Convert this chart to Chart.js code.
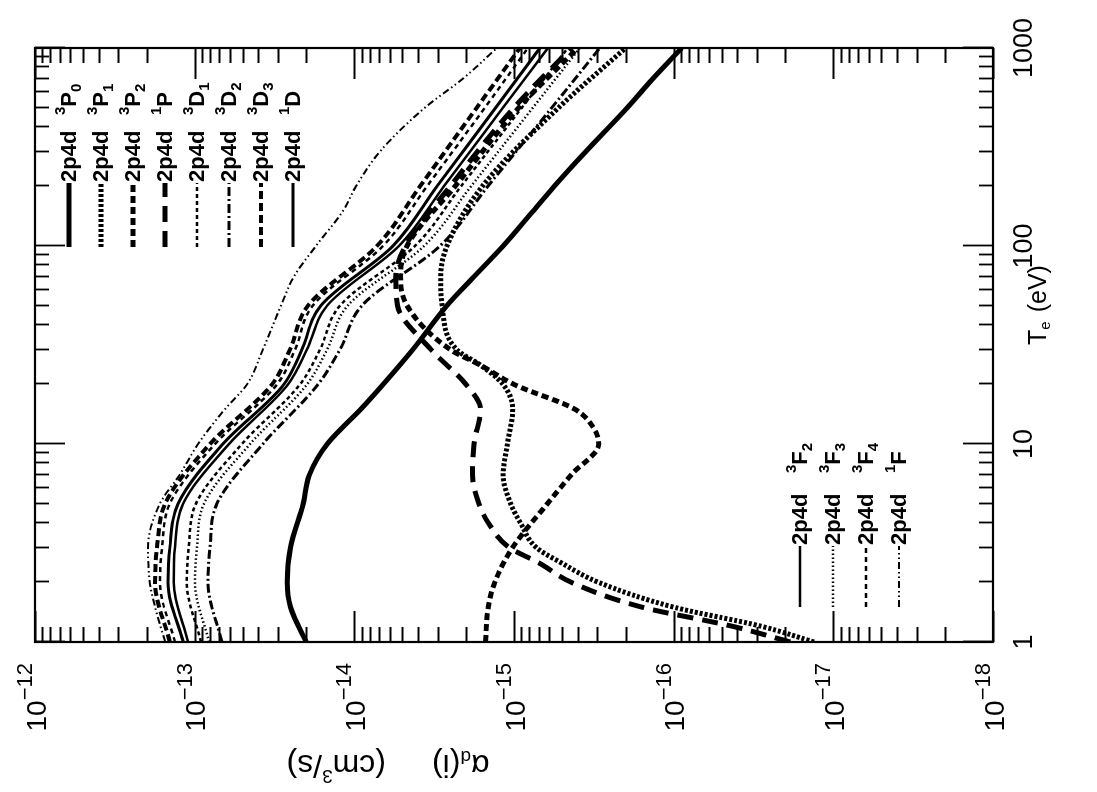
<!DOCTYPE html>
<html>
<head>
<meta charset="utf-8">
<script src="https://cdn.jsdelivr.net/npm/chart.js@4.4.1/dist/chart.umd.min.js"></script>
<style>
  html, body { margin: 0; padding: 0; background: #fff; overflow: hidden; width: 1097px; height: 792px; }
  /* the figure is laid out in portrait and turned a quarter turn to sit in landscape */
  #page { position: absolute; left: 0; top: 0; width: 792px; height: 1097px;
          transform-origin: 0 0; transform: translate(0px, 792px) rotate(-90deg); background: #fff; }
  canvas { display: block; }
</style>
</head>
<body>
<div id="page"><canvas id="chart" width="792" height="1097"></canvas></div>
<script>
// ---- dielectronic recombination rate coefficients, alpha_d(i) in cm^3/s, vs T_e in eV ----

// 2p4d 3P0
const T_P0 = [1, 1.5, 2, 3, 5, 7, 10, 15, 20, 30, 50, 70, 100, 150, 200, 300, 500, 700, 1000];
const A_P0 = [2.0e-14, 2.51e-14, 2.63e-14, 2.51e-14, 2.09e-14, 1.91e-14, 1.48e-14, 9.1e-15, 6.6e-15, 4.3e-15, 2.63e-15, 1.78e-15, 1.17e-15, 7.6e-16, 5.6e-16, 3.55e-16, 1.95e-16, 1.35e-16, 8.9e-17];

// 2p4d 3P1
const T_P1 = [1, 1.2, 1.5, 2, 2.5, 3, 4, 5, 7, 10, 15, 20, 25, 30, 50, 70, 100, 200, 500, 1000];
const A_P1 = [1.32e-17, 2.82e-17, 1.0e-16, 2.95e-16, 5.01e-16, 7.24e-16, 9.12e-16, 1.05e-15, 1.17e-15, 1.10e-15, 1.02e-15, 1.17e-15, 1.62e-15, 2.29e-15, 2.82e-15, 2.88e-15, 2.63e-15, 1.58e-15, 5.25e-16, 2.0e-16];

// 2p4d 3P2
const T_P2 = [1, 1.5, 2, 3, 5, 7, 10, 12, 15, 20, 25, 30, 50, 70, 100, 200, 500, 1000];
const A_P2 = [1.51e-15, 1.45e-15, 1.32e-15, 1.02e-15, 6.17e-16, 4.37e-16, 2.95e-16, 3.16e-16, 4.17e-16, 1.0e-15, 1.62e-15, 2.51e-15, 4.68e-15, 5.13e-15, 4.68e-15, 2.34e-15, 9.33e-16, 3.98e-16];

// 2p4d 1P
const T_1P = [1, 1.2, 1.5, 2, 2.5, 3, 4, 5, 7, 10, 15, 20, 30, 50, 70, 100, 200, 500, 1000];
const A_1P = [1.86e-17, 4.27e-17, 1.58e-16, 4.37e-16, 6.92e-16, 1.07e-15, 1.45e-15, 1.66e-15, 1.82e-15, 1.78e-15, 1.62e-15, 2.0e-15, 3.31e-15, 5.37e-15, 5.50e-15, 4.79e-15, 2.51e-15, 1.0e-15, 4.37e-16];

// the D and F terms share one temperature grid
const T_DF = [1, 2, 3, 5, 10, 20, 30, 50, 100, 200, 500, 1000];
const A_D1 = [9.13e-14, 1.12e-13, 1.09e-13, 9.81e-14, 5.06e-14, 2.19e-14, 1.64e-14, 1.23e-14, 4.17e-15, 2.15e-15, 8.92e-16, 4.60e-16];
const A_D2 = [6.75e-14, 8.25e-14, 8.02e-14, 7.25e-14, 3.74e-14, 1.69e-14, 1.23e-14, 8.96e-15, 2.91e-15, 1.46e-15, 5.79e-16, 2.90e-16];
const A_D3 = [1.43e-13, 1.77e-13, 1.72e-13, 1.53e-13, 8.02e-14, 3.28e-14, 2.53e-14, 1.95e-14, 7.22e-15, 3.88e-15, 1.71e-15, 9.18e-16];
const A_1D = [1.18e-13, 1.47e-13, 1.43e-13, 1.27e-13, 6.65e-14, 2.76e-14, 2.13e-14, 1.62e-14, 5.73e-15, 3.04e-15, 1.30e-15, 6.88e-16];
const A_F2 = [1.10e-13, 1.35e-13, 1.33e-13, 1.18e-13, 6.10e-14, 2.60e-14, 1.98e-14, 1.48e-14, 5.26e-15, 2.75e-15, 1.17e-15, 6.13e-16];
const A_F3 = [8.13e-14, 9.96e-14, 9.67e-14, 8.74e-14, 4.50e-14, 1.98e-14, 1.48e-14, 1.10e-14, 3.66e-15, 1.86e-15, 7.61e-16, 3.87e-16];
const A_F4 = [1.33e-13, 1.65e-13, 1.60e-13, 1.43e-13, 7.46e-14, 3.05e-14, 2.35e-14, 1.82e-14, 6.62e-15, 3.51e-15, 1.52e-15, 8.18e-16];

// 2p4d 1F
const T_1F = [1, 1.5, 2, 3, 5, 7, 10, 15, 20, 30, 50, 70, 100, 150, 200, 300, 500, 700, 1000];
const A_1F = [1.53e-13, 1.77e-13, 1.91e-13, 1.96e-13, 1.65e-13, 1.24e-13, 9.53e-14, 6.46e-14, 4.70e-14, 3.74e-14, 2.88e-14, 2.39e-14, 1.74e-14, 1.18e-14, 9.77e-15, 6.91e-15, 3.61e-15, 2.09e-15, 1.28e-15];

// term symbols: superscript multiplicity, letter, subscript J
const termSup    = ['3', '3', '3', '1', '3', '3', '3', '1', '3', '3', '3', '1'];
const termLetter = ['P', 'P', 'P', 'P', 'D', 'D', 'D', 'D', 'F', 'F', 'F', 'F'];
const termSub    = ['0', '1', '2', '',  '1', '2', '3', '',  '2', '3', '4', ''];
const seriesT = [T_P0, T_P1, T_P2, T_1P, T_DF, T_DF, T_DF, T_DF, T_DF, T_DF, T_DF, T_1F];
const seriesA = [A_P0, A_P1, A_P2, A_1P, A_D1, A_D2, A_D3, A_1D, A_F2, A_F3, A_F4, A_1F];

// axis ticks
const xDecades = [1, 10, 100, 1000];
const xTickLabels = ['1', '10', '100', '1000'];
const yDecades = [1e-18, 1e-17, 1e-16, 1e-15, 1e-14, 1e-13, 1e-12];
const yTickBase = '10';
const yTickExponents = ['−18', '−17', '−16', '−15', '−14', '−13', '−12'];
const minorSteps = [2, 3, 4, 5, 6, 7, 8, 9];

// ---- drawing styles ----
const FONT = '"Liberation Sans", Arial, Helvetica, sans-serif';
const lineStyles = [
  { w: 5,   dash: [] },                       // 3P0
  { w: 5,   dash: [3, 2] },                   // 3P1
  { w: 5,   dash: [7, 4] },                   // 3P2
  { w: 5,   dash: [16, 9] },                  // 1P
  { w: 2.5, dash: [4, 3] },                   // 3D1
  { w: 3,   dash: [9, 3, 2, 3] },             // 3D2
  { w: 4,   dash: [8, 4] },                   // 3D3
  { w: 3,   dash: [] },                       // 1D
  { w: 2.5, dash: [] },                       // 3F2
  { w: 2.5, dash: [1.5, 2.5] },               // 3F3
  { w: 2.5, dash: [5, 4] },                   // 3F4
  { w: 2,   dash: [7, 3, 1.5, 3, 1.5, 3] }    // 1F
];
const subDigits = { '0': '₀', '1': '₁', '2': '₂', '3': '₃', '4': '₄' };
const supDigits = { '1': '¹', '3': '³' };

function tickList(decades) {
  const list = [];
  decades.forEach((d, i) => {
    list.push({ value: d, major: true });
    if (i < decades.length - 1) minorSteps.forEach(m => list.push({ value: m * d, major: false }));
  });
  return list;
}

const datasets = seriesA.map((a, i) => ({
  label: '2p4d ' + supDigits[termSup[i]] + termLetter[i] + (termSub[i] ? subDigits[termSub[i]] : ''),
  data: seriesT[i].map((t, k) => ({ x: t, y: a[k] })),
  borderColor: '#000',
  borderWidth: lineStyles[i].w,
  borderDash: lineStyles[i].dash,
  borderCapStyle: 'butt',
  borderJoinStyle: 'round',
  pointRadius: 0,
  fill: false,
  cubicInterpolationMode: 'monotone'
}));

// draws a run of text pieces (normal / raised / lowered) starting at x
function drawPieces(ctx, pieces, x, y, weight) {
  pieces.forEach(p => {
    ctx.font = weight + ' ' + p.size + 'px ' + FONT;
    ctx.fillText(p.text, x, y + (p.dy || 0));
    x += ctx.measureText(p.text).width + (p.gap || 0);
  });
  return x;
}
function piecesWidth(ctx, pieces, weight) {
  let w = 0;
  pieces.forEach(p => { ctx.font = weight + ' ' + p.size + 'px ' + FONT; w += ctx.measureText(p.text).width + (p.gap || 0); });
  return w;
}

// inward tick marks on all four sides, the plot frame and the decade labels
const framePlugin = {
  id: 'frameTicks',
  afterDatasetsDraw(chart) {
    const { ctx, chartArea: ca } = chart;
    const xs = chart.scales.x, ys = chart.scales.y;
    ctx.save();
    ctx.strokeStyle = '#000';
    ctx.fillStyle = '#000';
    ctx.lineWidth = 1.8;
    ctx.setLineDash([]);
    xs.ticks.forEach(t => {
      const p = Math.round(xs.getPixelForValue(t.value)) + 0.5;
      const len = t.major ? 30 : 14;
      ctx.beginPath();
      ctx.moveTo(p, ca.bottom); ctx.lineTo(p, ca.bottom - len);
      ctx.moveTo(p, ca.top); ctx.lineTo(p, ca.top + len);
      ctx.stroke();
    });
    ys.ticks.forEach(t => {
      const p = Math.round(ys.getPixelForValue(t.value)) + 0.5;
      const len = t.major ? 31 : 15;
      ctx.beginPath();
      ctx.moveTo(ca.left, p); ctx.lineTo(ca.left + len, p);
      ctx.moveTo(ca.right, p); ctx.lineTo(ca.right - len, p);
      ctx.stroke();
    });
    ctx.lineWidth = 2.2;
    ctx.strokeRect(ca.left, ca.top, ca.right - ca.left, ca.bottom - ca.top);

    // decade labels
    ctx.textBaseline = 'middle';
    xDecades.forEach((d, i) => {
      const p = xs.getPixelForValue(d);
      ctx.font = 'normal 27px ' + FONT;
      const w = ctx.measureText(xTickLabels[i]).width;
      ctx.fillText(xTickLabels[i], p - w / 2, ca.bottom + 32);
    });
    yDecades.forEach((d, i) => {
      const p = ys.getPixelForValue(d);
      const pieces = [{ text: yTickBase, size: 28 }, { text: yTickExponents[i], size: 22, dy: -12 }];
      const w = piecesWidth(ctx, pieces, 'normal');
      drawPieces(ctx, pieces, ca.left - 21 - w, p + 3, 'normal');
    });
    ctx.restore();
  }
};

// in-plot keys for the two groups of terms
const legendGroups = [
  { items: [0, 1, 2, 3, 4, 5, 6, 7], dx: 395, dy: 34, step: 32, len: 64, termDx: 132 },
  { items: [8, 9, 10, 11],           dx: 35,  dy: 765, step: 33, len: 61, termDx: 134 }
];
const keyPlugin = {
  id: 'termKeys',
  afterDatasetsDraw(chart) {
    const { ctx, chartArea: ca } = chart;
    ctx.save();
    ctx.fillStyle = '#000';
    ctx.strokeStyle = '#000';
    ctx.textBaseline = 'middle';
    legendGroups.forEach(g => {
      g.items.forEach((di, k) => {
        const ds = chart.data.datasets[di];
        const y = ca.top + g.dy + k * g.step;
        const x0 = ca.left + g.dx;
        ctx.lineWidth = ds.borderWidth;
        ctx.setLineDash(ds.borderDash);
        ctx.beginPath(); ctx.moveTo(x0, y); ctx.lineTo(x0 + g.len, y); ctx.stroke();
        ctx.setLineDash([]);
        drawPieces(ctx, [{ text: '2p4d', size: 22 }], x0 + g.len + 1, y + 1, 'bold');
        drawPieces(ctx, [
          { text: termSup[di], size: 15, dy: -8 },
          { text: termLetter[di], size: 22, dy: 1 },
          { text: termSub[di], size: 15, dy: 8 }
        ], x0 + g.termDx, y, 'bold');
      });
    });
    ctx.restore();
  }
};

// axis titles with sub/superscripts
const titlePlugin = {
  id: 'axisTitles',
  afterDraw(chart) {
    const { ctx, chartArea: ca } = chart;
    ctx.save();
    ctx.fillStyle = '#000';
    ctx.textBaseline = 'middle';
    // x title
    const xp = [
      { text: 'T', size: 25 },
      { text: 'e', size: 15, dy: 7, gap: 9 },
      { text: '(eV)', size: 25 }
    ];
    const xw = piecesWidth(ctx, xp, 'normal');
    drawPieces(ctx, xp, ca.left + 337 - xw / 2, ca.bottom + 46, 'normal');
    // y title, reading upward
    const yp = [
      { text: 'α', size: 32 },
      { text: 'd', size: 19, dy: 8 },
      { text: '(i)', size: 32, gap: 46 },
      { text: '(cm', size: 32 },
      { text: '3', size: 19, dy: -11 },
      { text: '/s)', size: 32 }
    ];
    const yw = piecesWidth(ctx, yp, 'normal');
    ctx.translate(28, 388);
    ctx.rotate(-Math.PI / 2);
    drawPieces(ctx, yp, -yw / 2, 0, 'normal');
    ctx.restore();
  }
};

const chart = new Chart(document.getElementById('chart'), {
  type: 'line',
  data: { datasets },
  options: {
    responsive: false,
    animation: false,
    devicePixelRatio: 1,
    layout: { padding: { left: 0, right: 48, top: 35, bottom: 0 } },
    plugins: { legend: { display: false }, tooltip: { enabled: false } },
    scales: {
      x: {
        type: 'logarithmic',
        min: 1, max: 1000,
        afterBuildTicks: s => { s.ticks = tickList(xDecades); },
        afterFit: s => { s.height = 104; },
        grid: { display: false, drawTicks: false },
        border: { display: false },
        ticks: { display: false, autoSkip: false }
      },
      y: {
        type: 'logarithmic',
        min: 1e-18, max: 1e-12,
        afterBuildTicks: s => { s.ticks = tickList(yDecades); },
        afterFit: s => { s.width = 150; },
        grid: { display: false, drawTicks: false },
        border: { display: false },
        ticks: { display: false, autoSkip: false }
      }
    }
  },
  plugins: [framePlugin, keyPlugin, titlePlugin]
});
</script>
</body>
</html>
